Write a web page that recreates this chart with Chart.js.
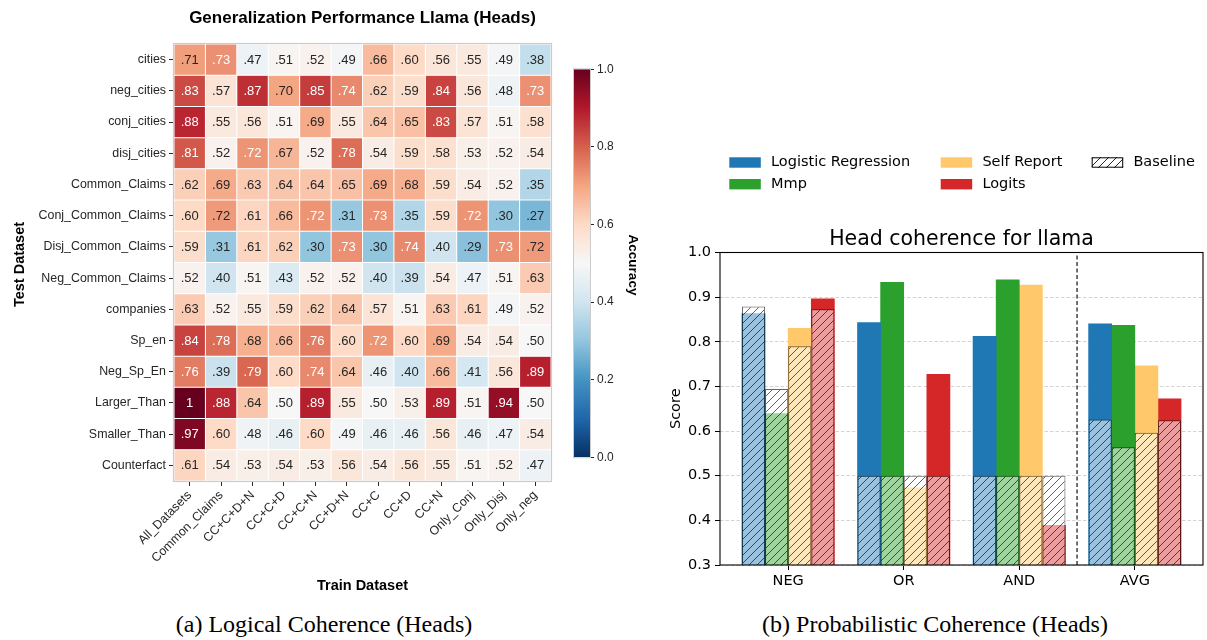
<!DOCTYPE html>
<html><head><meta charset="utf-8">
<script src="https://cdn.jsdelivr.net/npm/chart.js@4.4.1/dist/chart.umd.min.js"></script>
<style>
html,body{margin:0;padding:0;background:#fff;width:1207px;height:640px;overflow:hidden;position:relative}
canvas{position:absolute}
.cap{position:absolute;font-family:"Liberation Serif","Times New Roman",serif;font-size:24px;line-height:24px;color:#000;white-space:nowrap;transform:translateX(-50%)}
</style></head><body>
<canvas id="heat" width="570" height="600" style="left:0;top:0"></canvas>
<canvas id="cbar" width="120" height="440" style="left:540px;top:40px"></canvas>
<canvas id="bars" width="567" height="470" style="left:640px;top:130px"></canvas>
<div class="cap" style="left:324px;top:612px">(a) Logical Coherence (Heads)</div>
<div class="cap" style="left:935px;top:612px">(b) Probabilistic Coherence (Heads)</div>
<script>
// ---------------- DATA: heatmap ----------------
const trainLabels = ['All_Datasets','Common_Claims','CC+C+D+N','CC+C+D','CC+C+N','CC+D+N','CC+C','CC+D','CC+N','Only_Conj','Only_Disj','Only_neg'];
const testLabels = ['cities','neg_cities','conj_cities','disj_cities','Common_Claims','Conj_Common_Claims','Disj_Common_Claims','Neg_Common_Claims','companies','Sp_en','Neg_Sp_En','Larger_Than','Smaller_Than','Counterfact'];
const accCities      = [0.71,0.73,0.47,0.51,0.52,0.49,0.66,0.60,0.56,0.55,0.49,0.38];
const accNegCities   = [0.83,0.57,0.87,0.70,0.85,0.74,0.62,0.59,0.84,0.56,0.48,0.73];
const accConjCities  = [0.88,0.55,0.56,0.51,0.69,0.55,0.64,0.65,0.83,0.57,0.51,0.58];
const accDisjCities  = [0.81,0.52,0.724,0.67,0.52,0.78,0.54,0.59,0.58,0.53,0.52,0.54];
const accCommon      = [0.62,0.69,0.63,0.64,0.64,0.65,0.69,0.68,0.59,0.54,0.52,0.35];
const accConjCommon  = [0.60,0.716,0.61,0.66,0.724,0.31,0.73,0.35,0.59,0.724,0.30,0.27];
const accDisjCommon  = [0.59,0.31,0.61,0.62,0.30,0.73,0.30,0.74,0.40,0.29,0.73,0.716];
const accNegCommon   = [0.52,0.40,0.51,0.43,0.52,0.52,0.40,0.39,0.54,0.47,0.51,0.63];
const accCompanies   = [0.63,0.52,0.55,0.59,0.62,0.64,0.57,0.51,0.63,0.61,0.49,0.52];
const accSpEn        = [0.84,0.78,0.68,0.66,0.76,0.60,0.724,0.60,0.69,0.54,0.54,0.50];
const accNegSpEn     = [0.76,0.39,0.79,0.60,0.74,0.64,0.46,0.40,0.66,0.41,0.56,0.89];
const accLarger      = [1.00,0.88,0.64,0.50,0.89,0.55,0.50,0.53,0.89,0.51,0.94,0.50];
const accSmaller     = [0.97,0.60,0.48,0.46,0.60,0.49,0.46,0.46,0.56,0.46,0.47,0.54];
const accCounterfact = [0.61,0.54,0.53,0.54,0.53,0.56,0.54,0.56,0.55,0.51,0.52,0.47];
const colorbarTicks = [0,0.2,0.4,0.6,0.8,1.0];

// ---------------- DATA: bar chart ----------------
const groups = ['NEG','OR','AND','AVG'];
const methods = ['Logistic Regression','Mmp','Self Report','Logits'];
const lrScores     = [0.863,0.843,0.812,0.840];
const mmpScores    = [0.639,0.933,0.939,0.837];
const srScores     = [0.830,0.473,0.927,0.746];
const logitScores  = [0.896,0.727,0.389,0.672];
const lrBaseline    = [0.879,0.5,0.5,0.626];
const mmpBaseline   = [0.694,0.5,0.5,0.564];
const srBaseline    = [0.790,0.5,0.5,0.596];
const logitBaseline = [0.873,0.5,0.5,0.624];
const scoreTicks = [0.3,0.4,0.5,0.6,0.7,0.8,0.9,1.0];
const separatorAt = 2.5;

// ---------------- styles ----------------
const SANS = "'Liberation Sans', Arial, sans-serif";
const DJV = "'DejaVu Sans', sans-serif";
const TXT = '#262626';
const methodColors = ['#1f77b4','#2ca02c','#ffc96b','#d62728'];
const RDBU_R = ['#053061','#2166ac','#4393c3','#92c5de','#d1e5f0','#f7f7f7','#fddbc7','#f4a582','#d6604d','#b2182b','#67001f'];
const barSlot = 0.2;

function hexRgb(h){return [parseInt(h.slice(1,3),16),parseInt(h.slice(3,5),16),parseInt(h.slice(5,7),16)];}
function cmap(v){
  const t=Math.max(0,Math.min(1,v))*10; const i=Math.min(9,Math.floor(t)); const f=t-i;
  const a=hexRgb(RDBU_R[i]), b=hexRgb(RDBU_R[i+1]);
  return 'rgb('+a.map((c,k)=>Math.round(c+(b[k]-c)*f)).join(',')+')';
}
function fmtAcc(v){ return v>=0.995 ? '1' : v.toFixed(2).replace(/^0/,''); }

const accuracyRows = [accCities,accNegCities,accConjCities,accDisjCities,accCommon,accConjCommon,accDisjCommon,accNegCommon,accCompanies,accSpEn,accNegSpEn,accLarger,accSmaller,accCounterfact];

// ---------------- heatmap ----------------
const cellUnit = testLabels.map(()=>1);
const heatPlugin = {
  id:'heatText',
  afterDatasetsDraw(chart){
    const ctx=chart.ctx;
    ctx.save();
    ctx.font='13px '+SANS; ctx.textAlign='center'; ctx.textBaseline='middle';
    chart.data.datasets.forEach((ds,j)=>{
      chart.getDatasetMeta(j).data.forEach((el,i)=>{
        const v=accuracyRows[i][j]; const p=el.getCenterPoint();
        ctx.fillStyle = v>=0.72 ? '#ffffff' : TXT;
        ctx.fillText(fmtAcc(v), p.x, p.y+0.5);
      });
    });
    ctx.restore();
  },
  afterDraw(chart){
    const ctx=chart.ctx, a=chart.chartArea;
    ctx.save();
    ctx.strokeStyle='#cccccc'; ctx.lineWidth=1.2;
    ctx.strokeRect(a.left-0.5,a.top-0.5,a.right-a.left+1,a.bottom-a.top+1);
    ctx.fillStyle='#000'; ctx.textAlign='center'; ctx.textBaseline='alphabetic';
    ctx.font='bold 17px '+SANS;
    ctx.fillText('Generalization Performance Llama (Heads)', (a.left+a.right)/2, 23);
    ctx.font='bold 14.5px '+SANS;
    ctx.fillText('Train Dataset', (a.left+a.right)/2, 590);
    ctx.translate(24,(a.top+a.bottom)/2+2); ctx.rotate(-Math.PI/2);
    ctx.fillText('Test Dataset',0,0);
    ctx.restore();
  }
};
new Chart(document.getElementById('heat'),{
  type:'bar',
  data:{labels:testLabels, datasets:trainLabels.map((name,j)=>({
    label:name, data:cellUnit,
    backgroundColor:accuracyRows.map(r=>cmap(r[j])),
    borderColor:'#ffffff', borderWidth:0.5, borderSkipped:false, inflateAmount:0,
    barPercentage:1, categoryPercentage:1
  }))},
  options:{
    indexAxis:'y', responsive:false, animation:false, devicePixelRatio:1,
    layout:{padding:{top:44,right:19,left:0,bottom:0}},
    plugins:{legend:{display:false},tooltip:{enabled:false}},
    scales:{
      x:{type:'linear',stacked:true,min:0,max:12,offset:false,
        afterFit:s=>{s.height=119;},
        afterBuildTicks:s=>{s.ticks=trainLabels.map((_,j)=>({value:j+0.5}));},
        ticks:{autoSkip:false,minRotation:45,maxRotation:45,callback:(v,i)=>trainLabels[i],font:{family:SANS,size:12.4},color:TXT,padding:2},
        grid:{display:true,drawOnChartArea:false,drawTicks:true,tickLength:5,color:TXT,offset:false},
        border:{display:false}},
      y:{type:'category',stacked:true,offset:true,
        afterFit:s=>{s.width=174;},
        ticks:{autoSkip:false,font:{family:SANS,size:12.4},color:TXT,padding:3},
        grid:{display:true,drawOnChartArea:false,drawTicks:true,tickLength:5,color:TXT,offset:false},
        border:{display:false}}
    }
  },
  plugins:[heatPlugin]
});

// ---------------- colorbar ----------------
const cbarPlugin = {
  id:'cbarDeco',
  afterDraw(chart){
    const ctx=chart.ctx, a=chart.chartArea;
    ctx.save();
    ctx.strokeStyle='#cccccc'; ctx.lineWidth=1;
    ctx.strokeRect(a.left-0.5,a.top-0.5,a.right-a.left+1,a.bottom-a.top+1);
    ctx.fillStyle='#000'; ctx.font='bold 13.5px '+SANS; ctx.textAlign='center'; ctx.textBaseline='alphabetic';
    ctx.translate(89.3,225); ctx.rotate(Math.PI/2);
    ctx.fillText('Accuracy',0,0);
    ctx.restore();
  }
};
new Chart(document.getElementById('cbar'),{
  type:'bar',
  data:{labels:['Accuracy'],datasets:[{data:[[0,1]],borderWidth:0,barPercentage:1,categoryPercentage:1,
    backgroundColor:(c)=>{const a=c.chart.chartArea; if(!a) return '#f7f7f7';
      const g=c.chart.ctx.createLinearGradient(0,a.bottom,0,a.top);
      RDBU_R.forEach((col,i)=>g.addColorStop(i/10,col)); return g;}}]},
  options:{
    responsive:false, animation:false, devicePixelRatio:1,
    layout:{padding:{left:34,top:29.3,bottom:22.7,right:0}},
    plugins:{legend:{display:false},tooltip:{enabled:false}},
    scales:{
      x:{display:false},
      y:{position:'right',min:0,max:1,afterFit:s=>{s.width=70;},
        afterBuildTicks:s=>{s.ticks=colorbarTicks.map(v=>({value:v}));},
        ticks:{callback:v=>v.toFixed(1),font:{family:SANS,size:12},color:TXT,padding:3},
        grid:{drawOnChartArea:false,tickLength:4,color:TXT},
        border:{display:false}}
    }
  },
  plugins:[cbarPlugin]
});

// ---------------- bar chart ----------------
const barCanvas = document.getElementById('bars');
function makeHatch(ctx, fill, line){
  const s=8, c=document.createElement('canvas'); c.width=s; c.height=s;
  const g=c.getContext('2d');
  g.fillStyle=fill; g.fillRect(0,0,s,s);
  g.strokeStyle=line; g.lineWidth=1; g.beginPath();
  g.moveTo(0,s); g.lineTo(s,0);
  g.moveTo(-1,1); g.lineTo(1,-1);
  g.moveTo(s-1,s+1); g.lineTo(s+1,s-1);
  g.stroke();
  return ctx.createPattern(c,'repeat');
}
const hatch = makeHatch(barCanvas.getContext('2d'),'rgba(255,255,255,0.55)','rgba(0,0,0,0.62)');
const legendHatch = makeHatch(barCanvas.getContext('2d'),'#ffffff','rgba(0,0,0,0.85)');
const methodScores = [lrScores,mmpScores,srScores,logitScores];
const methodBaselines = [lrBaseline,mmpBaseline,srBaseline,logitBaseline];
const barDatasets = [];
methods.forEach((m,j)=>{
  const xs = groups.map((g,i)=>i+(j-1.5)*barSlot);
  barDatasets.push({type:'bar',label:m,data:xs.map((x,i)=>({x:x,y:methodScores[j][i]})),
    backgroundColor:methodColors[j],borderWidth:0,stack:'s',order:2,barPercentage:1,categoryPercentage:1});
  barDatasets.push({type:'bar',label:'Baseline',data:xs.map((x,i)=>({x:x,y:methodBaselines[j][i]})),
    backgroundColor:hatch,borderColor:'rgba(0,0,0,0.6)',borderWidth:1,borderSkipped:false,inflateAmount:0,
    stack:'s',order:1,barPercentage:1,categoryPercentage:1});
});
barDatasets.push({type:'line',label:'separator',data:[{x:separatorAt,y:scoreTicks[0]},{x:separatorAt,y:scoreTicks[scoreTicks.length-1]}],
  borderColor:'#333333',borderWidth:1.4,borderDash:[4,2.5],pointRadius:0,order:0});

const barPlugin = {
  id:'barDeco',
  afterDraw(chart){
    const ctx=chart.ctx, a=chart.chartArea;
    ctx.save();
    ctx.strokeStyle='#000'; ctx.lineWidth=1.1;
    ctx.strokeRect(a.left,a.top,a.right-a.left,a.bottom-a.top);
    ctx.fillStyle='#000'; ctx.textAlign='center'; ctx.textBaseline='alphabetic';
    ctx.font='20.5px '+DJV;
    ctx.fillText('Head coherence for llama',(a.left+a.right)/2,115);
    ctx.save();
    ctx.font='14.5px '+DJV;
    ctx.translate(40,(a.top+a.bottom)/2); ctx.rotate(-Math.PI/2);
    ctx.fillText('Score',0,0);
    ctx.restore();
    // legend (3 columns, filled column-wise)
    const items = methods.map((m,j)=>({label:m,fill:methodColors[j],hatched:false})).concat([{label:'Baseline',fill:legendHatch,hatched:true}]);
    const colX=[89.3,300.7,451.7], rowY=[27.3,49];
    ctx.font='14.5px '+DJV; ctx.textAlign='left'; ctx.textBaseline='middle';
    items.forEach((it,k)=>{
      const col=Math.floor(k/2), row=k%2;
      const x=colX[col], y=rowY[row];
      ctx.fillStyle=it.fill; ctx.fillRect(x,y,31.5,10.4);
      if(it.hatched){ctx.strokeStyle='#000'; ctx.lineWidth=1; ctx.strokeRect(x+0.5,y+0.5,30.5,9.4);}
      ctx.fillStyle='#000';
      ctx.fillText(it.label,x+41.7,y+5.4);
    });
    ctx.restore();
  }
};
new Chart(barCanvas,{
  type:'bar',
  data:{datasets:barDatasets},
  options:{
    responsive:false, animation:false, devicePixelRatio:1,
    layout:{padding:{top:122.5,right:4,left:0,bottom:0}},
    plugins:{legend:{display:false},tooltip:{enabled:false}},
    scales:{
      x:{type:'linear',min:-0.59,max:3.59,offset:false,
        afterFit:s=>{s.height=35;},
        afterBuildTicks:s=>{s.ticks=groups.map((g,i)=>({value:i}));},
        ticks:{autoSkip:false,maxRotation:0,callback:(v,i)=>groups[i],font:{family:DJV,size:14.5},color:'#000',padding:3},
        grid:{display:true,drawOnChartArea:false,tickLength:5,color:'#000',offset:false},
        border:{display:false}},
      y:{type:'linear',min:0.3,max:1.0,stacked:false,
        afterFit:s=>{s.width=80;},
        afterBuildTicks:s=>{s.ticks=scoreTicks.map(v=>({value:v}));},
        ticks:{callback:v=>v.toFixed(1),font:{family:DJV,size:14.5},color:'#000',padding:4},
        grid:{color:'#d4d4d4',lineWidth:1,tickColor:'#000',tickLength:5},
        border:{display:false,dash:[3.5,2]}}
    }
  },
  plugins:[barPlugin]
});
</script>
</body></html>
